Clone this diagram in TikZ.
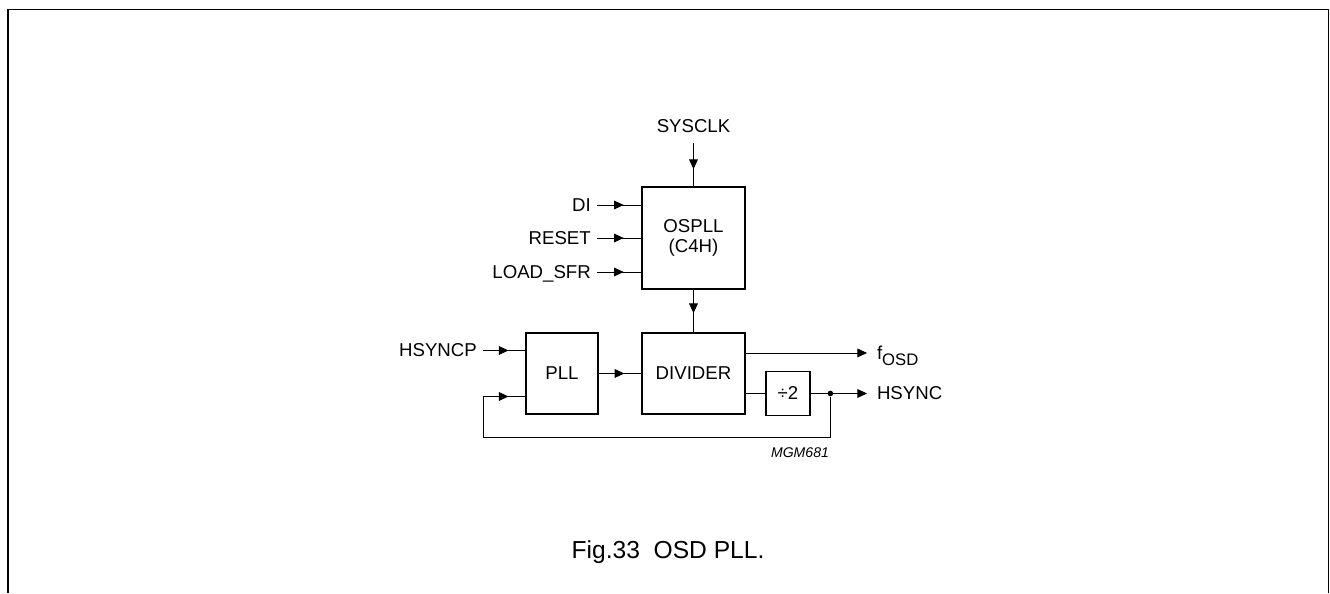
\documentclass[tikz,border=0pt]{standalone}
\usepackage{fontspec}
\setmainfont{Liberation Sans}
\usetikzlibrary{positioning,arrows.meta,calc,decorations.markings}

\begin{document}
\begin{tikzpicture}[x=0.02cm, y=-0.02cm, >={Triangle[length=5.5pt,width=5pt]},
  blk/.style={draw, line width=0.85pt, rectangle, align=center, inner sep=0pt, font=\fontsize{10.6}{11.5}\selectfont},
  lbl/.style={inner sep=3.5pt, text depth=0pt, font=\fontsize{10.6}{12.5}\selectfont},
  wire/.style={line width=0.45pt},
  midarrow/.style={wire, postaction={decorate}, decoration={markings, mark=at position #1 with {\arrow{>}}}},
  midarrow/.default=0.6,
  dot/.style={circle, fill, inner sep=0pt, minimum size=3.2pt}]
  \useasboundingbox (0,0) rectangle (1330,593);
  % page frame, open at the bottom
  \draw[line width=1pt] (8,593) -- (8,9.5) -- (1328.5,9.5) -- (1328.5,593);

  % blocks
  \node[blk, minimum width=2.06cm, minimum height=2.04cm] (ospll) at (693.5,238) {OSPLL\\(C4H)};
  \node[blk, minimum width=2.06cm, minimum height=1.62cm, below=0.85cm of ospll] (divider) {DIVIDER};
  \node[blk, minimum width=1.44cm, minimum height=1.62cm, left=0.85cm of divider] (pll) {PLL};
  \node[blk, minimum size=0.88cm, right=0.39cm of divider.east, yshift=-0.4cm] (half) {÷2};

  % inputs of OSPLL
  \coordinate (di-in) at ($(ospll.west)+(0,-33)$);
  \coordinate (reset-in) at (ospll.west);
  \coordinate (load-in) at ($(ospll.west)+(0,34)$);
  \node[lbl, left=0.88cm of di-in] (di) {DI};
  \node[lbl, left=0.88cm of reset-in] (reset) {RESET};
  \node[lbl, left=0.88cm of load-in] (loadsfr) {LOAD\_SFR};
  \foreach \s/\t in {di/di-in, reset/reset-in, loadsfr/load-in}
    \draw[midarrow] (\s) -- (\t);
  \node[lbl, inner ysep=6pt, above=0.86cm of ospll] (sysclk) {SYSCLK};
  \draw[midarrow] (sysclk) -- (ospll);

  \draw[midarrow=0.55] (ospll) -- (divider);
  \draw[midarrow] (pll) -- (divider);

  % inputs of PLL
  \coordinate (pll-in1) at ($(pll.west)+(0,-23)$);
  \coordinate (pll-in2) at ($(pll.west)+(0,23)$);
  \node[lbl, left=0.84cm of pll-in1] (hsyncp) {HSYNCP};
  \draw[midarrow] (hsyncp) -- (pll-in1);

  % outputs
  \coordinate (div-out1) at ($(divider.east)+(0,-20.5)$);
  \draw[wire] (divider.east |- half) -- (half);
  \node[dot, right=0.33cm of half] (tap) {};
  \node[lbl, right=0.74cm of tap] (hsync) {HSYNC};
  \draw[wire, ->, shorten >=2pt] (half) -- (hsync);
  \node[lbl, anchor=west] (fosd) at (hsync.west |- div-out1) {f\raisebox{-3.4pt}{\fontsize{9.5}{11}\selectfont OSD}};
  \draw[wire, ->, shorten >=2pt] (div-out1) -- (fosd);

  % feedback loop
  \coordinate (fb-turn) at ($(pll-in2)+(-42,0)$);
  \coordinate (fb-low) at ($(fb-turn)+(0,41)$);
  \draw[wire] (tap) |- (fb-low) -- (fb-turn);
  \draw[midarrow] (fb-turn) -- (pll-in2);

  \node[font=\fontsize{8}{9.5}\selectfont\itshape] (mgm) at (800,453) {MGM681};
  \node[font=\fontsize{14}{16}\selectfont] (caption) at (668,551.7) {Fig.33\ \ OSD PLL.};
\end{tikzpicture}
\end{document}
